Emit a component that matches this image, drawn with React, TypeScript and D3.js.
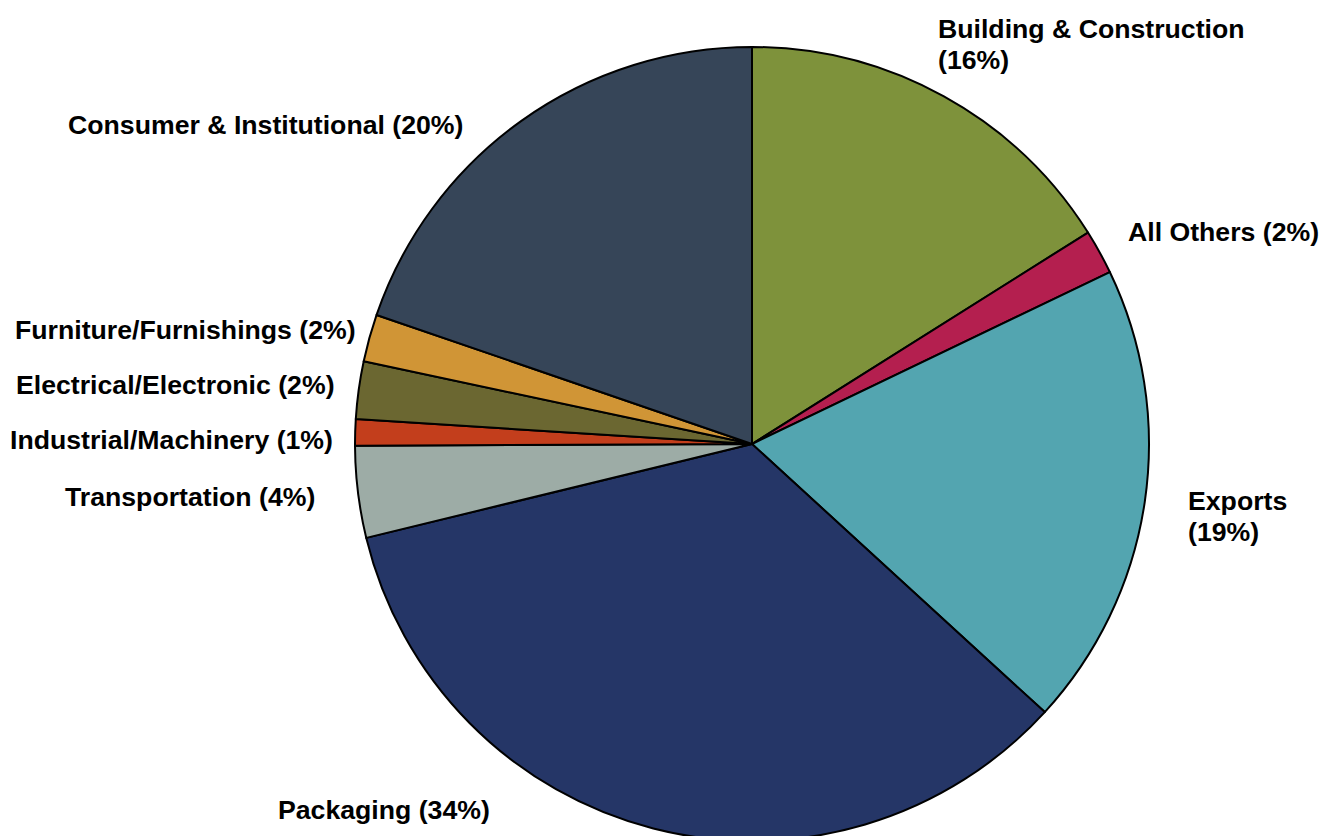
import React from "react";
import * as d3 from "d3";

const categories = [
  "Building & Construction",
  "All Others",
  "Exports",
  "Packaging",
  "Transportation",
  "Industrial/Machinery",
  "Electrical/Electronic",
  "Furniture/Furnishings",
  "Consumer & Institutional",
];
const shares = [16.06, 1.81, 18.93, 34.4, 3.73, 1.07, 2.34, 1.93, 19.73];
const percentLabels = ["16%", "2%", "19%", "34%", "4%", "1%", "2%", "2%", "20%"];
const colors = [
  "#7E923B",
  "#B41F4F",
  "#53A5B0",
  "#253667",
  "#9DACA6",
  "#C33E1C",
  "#6B6731",
  "#D09536",
  "#364558",
];
// label placement: [x, baseline y, two-line?]
const labelPos: [number, number, boolean][] = [
  [938, 37.5, true],
  [1128, 241, false],
  [1188, 510, true],
  [278, 819, false],
  [65, 506, false],
  [10, 449, false],
  [16, 394, false],
  [15, 339, false],
  [68, 134, false],
];

export default function App() {
  const W = 1321;
  const H = 836;
  const cx = 752;
  const cy = 444;
  const r = 397;
  const pie = d3
    .pie<number>()
    .sort(null)
    .startAngle(0)
    .endAngle(2 * Math.PI)
    .value((d) => d);
  const arcs = pie(shares);
  const arc = d3.arc<d3.PieArcDatum<number>>().innerRadius(0).outerRadius(r);
  const fs = 26.67;
  return (
    <div style={{ position: "fixed", left: 0, top: 0, width: W, height: H, background: "#fff" }}>
      <svg width={W} height={H} style={{ display: "block" }}>
        <g transform={`translate(${cx},${cy})`}>
          {arcs.map((a, i) => (
            <path
              key={i}
              d={arc(a) || ""}
              fill={colors[i]}
              stroke="#000"
              strokeWidth={2}
              strokeLinejoin="round"
            />
          ))}
        </g>
        <g
          fontFamily="'Liberation Sans', Arial, sans-serif"
          fontWeight="bold"
          fontSize={fs}
          fill="#000"
        >
          {categories.map((c, i) => {
            const [x, y, two] = labelPos[i];
            return two ? (
              <text key={i} x={x} y={y}>
                <tspan x={x} y={y}>{c}</tspan>
                <tspan x={x} y={y + 31}>({percentLabels[i]})</tspan>
              </text>
            ) : (
              <text key={i} x={x} y={y}>
                {`${c} (${percentLabels[i]})`}
              </text>
            );
          })}
        </g>
      </svg>
    </div>
  );
}
